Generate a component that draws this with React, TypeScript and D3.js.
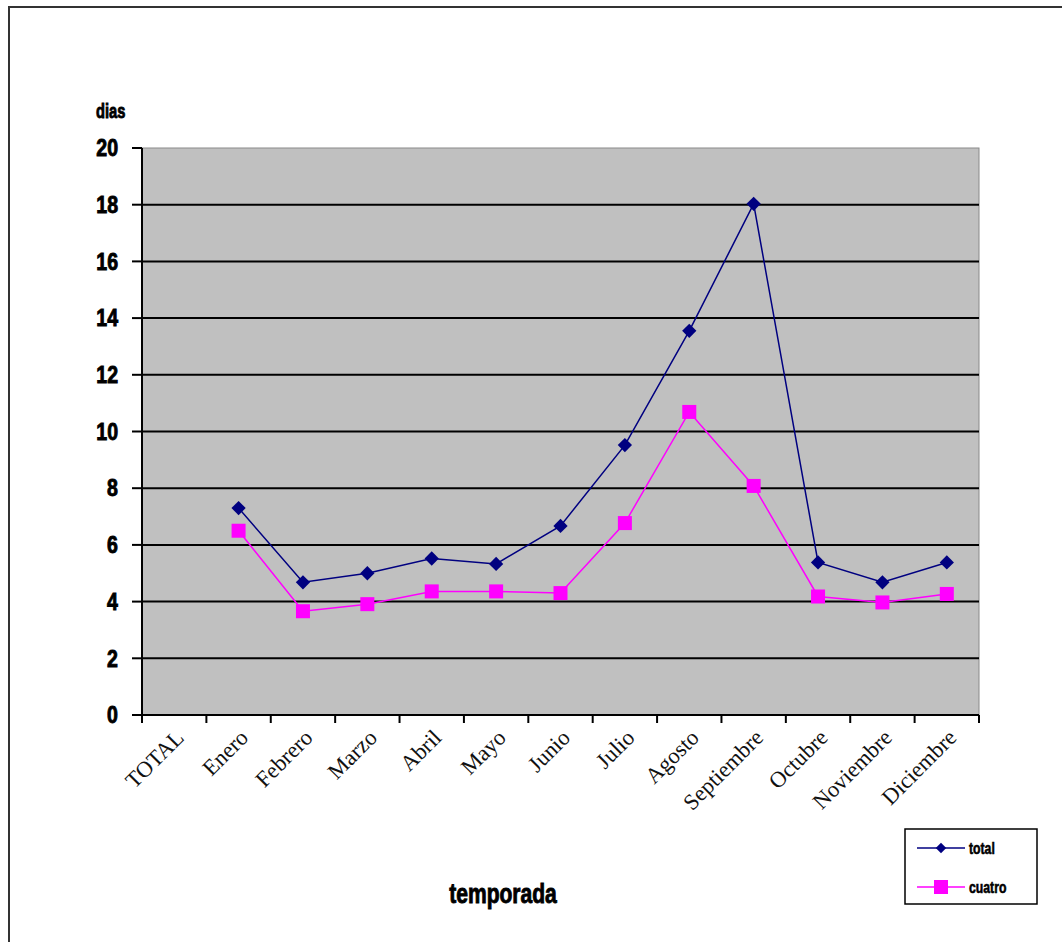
import React from 'react';
import * as d3 from 'd3';

const categories = ['TOTAL', 'Enero', 'Febrero', 'Marzo', 'Abril', 'Mayo', 'Junio', 'Julio', 'Agosto', 'Septiembre', 'Octubre', 'Noviembre', 'Diciembre'];
const totalValues: (number | null)[] = [null, 7.3, 4.68, 5.0, 5.52, 5.33, 6.67, 9.52, 13.55, 18.03, 5.38, 4.68, 5.38];
const cuatroValues: (number | null)[] = [null, 6.5, 3.66, 3.91, 4.36, 4.36, 4.3, 6.77, 10.69, 8.08, 4.18, 3.97, 4.27];
const yTicks = [0, 2, 4, 6, 8, 10, 12, 14, 16, 18, 20];

const width = 1062;
const height = 942;
const margin = { left: 142, top: 148, right: 979, bottom: 715 };

const App: React.FC = () => {
  const x = d3.scaleBand<string>().domain(categories).range([margin.left, margin.right]);
  const y = d3.scaleLinear().domain([0, 20]).range([margin.bottom, margin.top]);
  const cx = (c: string) => (x(c) || 0) + x.bandwidth() / 2;

  const line = d3.line<[string, number | null]>()
    .defined(d => d[1] !== null)
    .x(d => cx(d[0]))
    .y(d => y(d[1] as number));

  const totalPts = categories.map((c, i) => [c, totalValues[i]] as [string, number | null]);
  const cuatroPts = categories.map((c, i) => [c, cuatroValues[i]] as [string, number | null]);

  // heavy condensed look of the original labels
  const heavy = { fontFamily: 'Liberation Sans, Arial, sans-serif', fontWeight: 700, stroke: '#000', strokeWidth: 0.9 } as const;

  return (
    <svg width={width} height={height} style={{ position: 'absolute', left: 0, top: 0 }}>
      <rect x={0} y={0} width={width} height={height} fill="#fff" />
      <rect x={9} y={7} width={1200} height={1200} fill="none" stroke="#333" strokeWidth={2} />

      {/* plot area */}
      <rect x={margin.left} y={margin.top} width={margin.right - margin.left} height={margin.bottom - margin.top} fill="#C0C0C0" stroke="#8a8a8a" strokeWidth={1} />

      {yTicks.filter(t => t > 0 && t < 20).map(t => (
        <line key={t} x1={margin.left} x2={margin.right} y1={y(t)} y2={y(t)} stroke="#000" strokeWidth={2} />
      ))}

      {/* y axis */}
      <line x1={margin.left} x2={margin.left} y1={margin.top} y2={margin.bottom} stroke="#000" strokeWidth={2} />
      {yTicks.map(t => (
        <g key={t}>
          <line x1={margin.left - 10} x2={margin.left} y1={y(t)} y2={y(t)} stroke="#000" strokeWidth={2} />
          <text transform={`translate(118,${y(t)}) scale(0.85,1)`} dy="0.36em" textAnchor="end" fontSize={23} {...heavy}>
            {t}
          </text>
        </g>
      ))}

      {/* x axis */}
      <line x1={margin.left} x2={margin.right} y1={margin.bottom} y2={margin.bottom} stroke="#000" strokeWidth={2} />
      {categories.map(c => (x(c) || 0)).concat([margin.right]).map((px, i) => (
        <line key={i} x1={px} x2={px} y1={margin.bottom} y2={margin.bottom + 8} stroke="#000" strokeWidth={2} />
      ))}
      {categories.map(c => (
        <text key={c} transform={`translate(${cx(c) + 11},${margin.bottom + 24}) rotate(-45)`} textAnchor="end"
          fontSize={22.5} fontFamily="Liberation Serif, Times New Roman, serif" fill="#111">
          {c}
        </text>
      ))}

      {/* axis titles */}
      <text transform="translate(96,118) scale(0.7,1)" fontSize={21} {...heavy}>dias</text>
      <text transform="translate(503,903) scale(0.78,1)" textAnchor="middle" fontSize={27} {...heavy}>temporada</text>

      {/* series */}
      <path d={line(totalPts) || ''} fill="none" stroke="#000080" strokeWidth={1.5} />
      <path d={line(cuatroPts) || ''} fill="none" stroke="#FF00FF" strokeWidth={1.5} />
      {totalPts.filter(d => d[1] !== null).map(d => (
        <path key={d[0]} d={d3.symbol(d3.symbolDiamond2, 130)() || ''} transform={`translate(${cx(d[0])},${y(d[1] as number)})`} fill="#000080" />
      ))}
      {cuatroPts.filter(d => d[1] !== null).map(d => (
        <rect key={d[0]} x={cx(d[0]) - 7} y={y(d[1] as number) - 7} width={14} height={14} fill="#FF00FF" />
      ))}

      {/* legend */}
      <rect x={905} y={829} width={132} height={75} fill="#fff" stroke="#000" strokeWidth={1.5} />
      <line x1={917} x2={965} y1={848} y2={848} stroke="#000080" strokeWidth={1.5} />
      <path d={d3.symbol(d3.symbolDiamond2, 70)() || ''} transform="translate(941,848)" fill="#000080" />
      <text transform="translate(969,854) scale(0.72,1)" fontSize={17} {...heavy} strokeWidth={0.6}>total</text>
      <line x1={917} x2={965} y1={887} y2={887} stroke="#FF00FF" strokeWidth={1.5} />
      <rect x={934} y={880} width={14} height={14} fill="#FF00FF" />
      <text transform="translate(969,893) scale(0.72,1)" fontSize={17} {...heavy} strokeWidth={0.6}>cuatro</text>
    </svg>
  );
};

export default App;
